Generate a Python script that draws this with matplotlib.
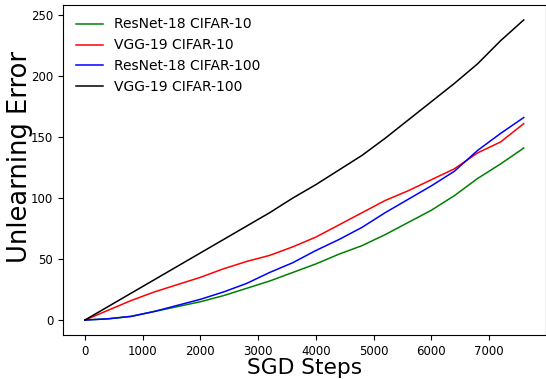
import matplotlib
matplotlib.use("Agg")
import matplotlib.pyplot as plt

steps = list(range(0, 7601, 400))
resnet18_c10 = [0, 1, 3, 7, 11, 15, 20, 26, 32, 39, 46, 54, 61, 70, 80, 90, 102, 116, 128, 141]
vgg19_c10 = [0, 8, 16, 23, 29, 35, 42, 48, 53, 60, 68, 78, 88, 98, 106, 115, 124, 137, 146, 161]
resnet18_c100 = [0, 1, 3, 7, 12, 17, 23, 30, 39, 47, 57, 66, 76, 88, 99, 110, 122, 139, 153, 166]
vgg19_c100 = [0, 11, 22, 33, 44, 55, 66, 77, 88, 100, 111, 123, 135, 149, 164, 179, 194, 210, 229, 246]

labels = ["ResNet-18 CIFAR-10", "VGG-19 CIFAR-10", "ResNet-18 CIFAR-100", "VGG-19 CIFAR-100"]
colors = ["green", "red", "blue", "black"]

fig = plt.figure(figsize=(5.46, 3.79), dpi=100)
ax = fig.add_axes([0.1154, 0.116, 0.884, 0.871])
for ys, lab, c in zip([resnet18_c10, vgg19_c10, resnet18_c100, vgg19_c100], labels, colors):
    ax.plot(steps, ys, color=c, label=lab, linewidth=1.1)

ax.set_xlabel("SGD Steps", fontsize=15.7, labelpad=0)
ax.set_ylabel("Unlearning Error", fontsize=18.5)
ax.yaxis.set_label_coords(-0.062, 0.539)
ax.tick_params(labelsize=8.5)
ax.set_xticks([0, 1000, 2000, 3000, 4000, 5000, 6000, 7000])
ax.set_yticks([0, 50, 100, 150, 200, 250])
ax.legend(loc="upper left", frameon=False, fontsize=10)
fig.savefig("out.png", dpi=100)
